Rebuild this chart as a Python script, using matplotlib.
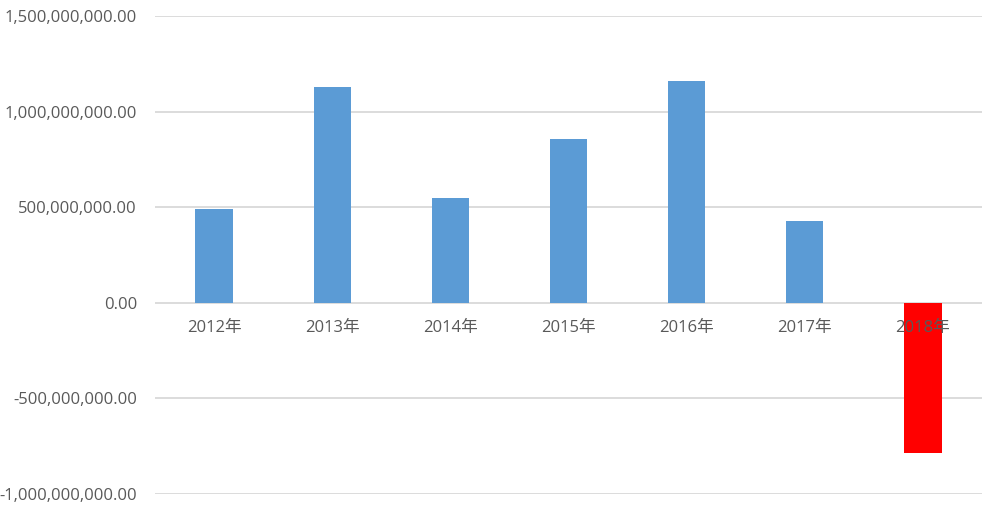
import matplotlib
matplotlib.use("Agg")
import matplotlib.pyplot as plt
from matplotlib.ticker import FuncFormatter

plt.rcParams['font.family'] = ['Open Sans', 'Noto Sans CJK SC', 'DejaVu Sans']

categories = ['2012年', '2013年', '2014年', '2015年', '2016年', '2017年', '2018年']
values = [491e6, 1128e6, 549e6, 857e6, 1160e6, 428e6, -784e6]
yticks = [-1e9, -5e8, 0, 5e8, 1e9, 1.5e9]

colors = ['#5B9BD5' if v >= 0 else '#FF0000' for v in values]

fig = plt.figure(figsize=(9.96, 5.09), dpi=100)
ax = fig.add_axes([155/996, 1 - 494/509, (982-155)/996, (494-16)/509])

x = list(range(len(categories)))
ax.bar(x, values, width=0.315, color=colors, zorder=2)
ax.set_xlim(-0.5, len(categories) - 0.5)
ax.set_ylim(-1e9, 1.5e9)
ax.set_yticks(yticks)
ax.yaxis.set_major_formatter(FuncFormatter(lambda v, p: f"{v:,.2f}"))
ax.grid(axis='y', color='#D9D9D9', linewidth=1.3, zorder=0)
ax.tick_params(axis='y', length=0, pad=13, labelsize=12, labelcolor='#595959')
ax.set_xticks([])
for s in ax.spines.values():
    s.set_visible(False)

for xi, c in zip(x, categories):
    ax.text(xi, -0.13e9, c, ha='center', va='center', fontsize=12,
            color='#595959', zorder=5)

fig.savefig('out.png', dpi=100)
